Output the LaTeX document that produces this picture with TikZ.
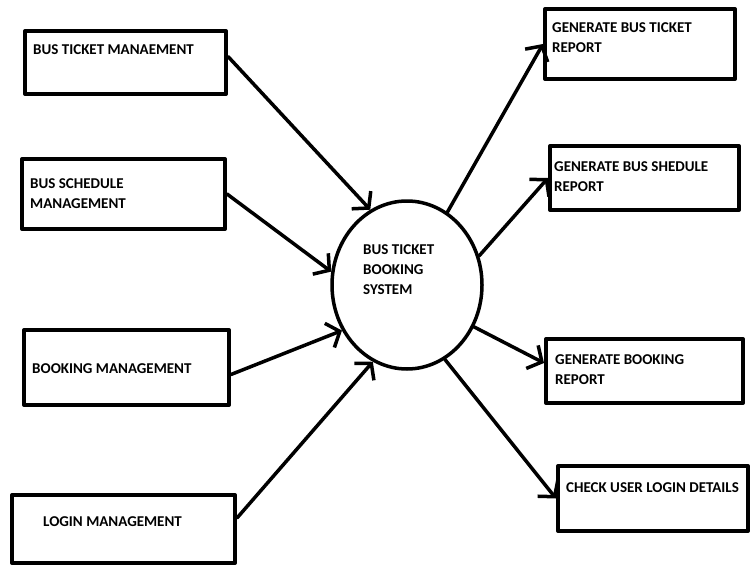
\documentclass[tikz,border=0pt]{standalone}
\usepackage{fontspec}
\setmainfont{Carlito}
\usetikzlibrary{shapes.geometric,arrows.meta}

\begin{document}
\begin{tikzpicture}[x=1pt, y=-1pt, line join=round, line cap=round,
		box/.style={draw, line width=4pt, inner sep=0pt},
		lbl/.style={anchor=west, inner sep=0pt, align=left, font=\fontsize{15}{20}\selectfont\bfseries},
		flow/.style={line width=3.5pt, -{Straight Barb[length=11pt, width=26pt]}}]
	\useasboundingbox (0,0) rectangle (754,569);

	% Các khối bên trái
	\node[box, minimum width=201pt, minimum height=63pt] (b1) at (125.5,62.5) {};
	\node[box, minimum width=203pt, minimum height=70pt] (b2) at (123.5,194) {};
	\node[box, minimum width=205pt, minimum height=75pt] (b3) at (126.5,367.5) {};
	\node[box, minimum width=223pt, minimum height=68pt] (b4) at (123.5,529) {};

	% Các khối bên phải
	\node[box, minimum width=190pt, minimum height=70pt] (b5) at (640,44) {};
	\node[box, minimum width=189pt, minimum height=64pt] (b6) at (644.5,178) {};
	\node[box, minimum width=197pt, minimum height=64pt] (b7) at (644.5,371) {};
	\node[box, minimum width=190pt, minimum height=65pt] (b8) at (653,498.5) {};

	% Hệ thống trung tâm
	\node[draw, ellipse, line width=3.5pt, minimum width=150pt, minimum height=168pt] (sys) at (407,285) {};

	% Nhãn
	\node[lbl] (t1) at (33,50) {BUS TICKET MANAEMENT};
	\node[lbl] (t2) at (30,193.5) {BUS SCHEDULE\\MANAGEMENT};
	\node[lbl] (t3) at (32,369) {BOOKING MANAGEMENT};
	\node[lbl] (t4) at (43,522) {LOGIN MANAGEMENT};
	\node[lbl] (t5) at (552,37.5) {GENERATE BUS TICKET\\REPORT};
	\node[lbl] (t6) at (554,176.5) {GENERATE BUS SHEDULE\\REPORT};
	\node[lbl] (t7) at (555,370) {GENERATE BOOKING\\REPORT};
	\node[lbl] (t8) at (566,488) {CHECK USER LOGIN DETAILS};
	\node[lbl] (tc) at (363,270) {BUS TICKET\\BOOKING\\SYSTEM};

	% Luồng vào
	\draw[flow] ([yshift=6pt]b1.east) -- (sys.116);
	\draw[flow] (b2.east) -- (sys.170);
	\draw[flow] ([yshift=-7pt]b3.east) -- (sys.215);
	\draw[flow] ([yshift=11pt]b4.east) -- (sys.246);

	% Luồng ra
	\draw[flow] (sys.61) -- (b5.west);
	\draw[flow] (sys.22) -- (b6.west);
	\draw[flow] (sys.-32) -- ([yshift=8pt]b7.west);
	\draw[flow] (sys.-63) -- (b8.west);
\end{tikzpicture}
\end{document}
